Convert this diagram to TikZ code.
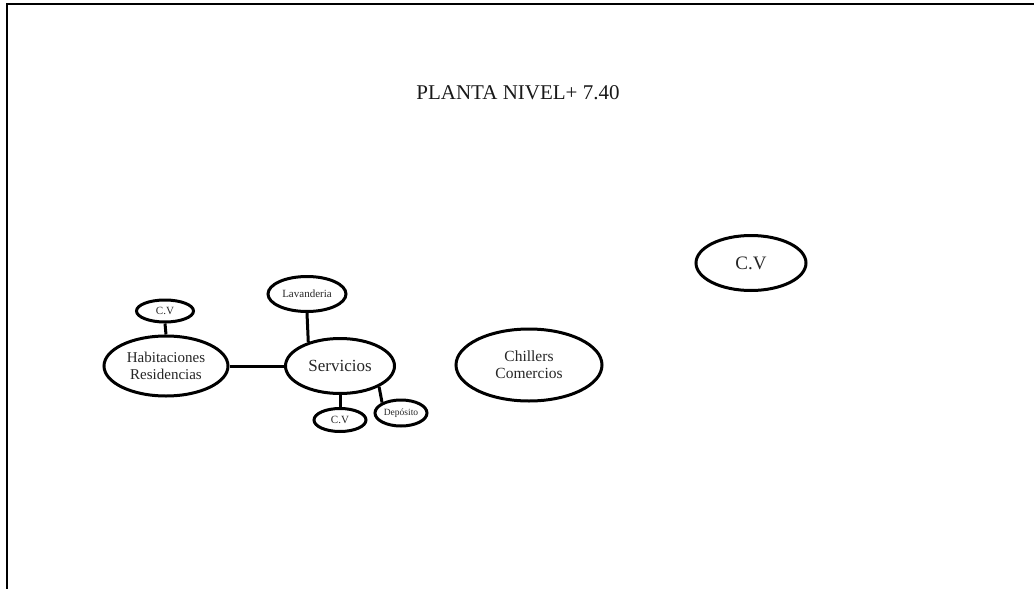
\documentclass[tikz,border=0pt]{standalone}
\usepackage{fontspec}
\setmainfont{Liberation Serif}
\usetikzlibrary{shapes.geometric}
\tikzset{
  room/.style={ellipse, draw=black, line width=3pt, inner sep=0pt, align=center, text=black!85},
  link/.style={line width=3pt},
}
\begin{document}
\begin{tikzpicture}[x=1pt,y=-1pt]
\useasboundingbox (0,0) rectangle (1034,589);
\draw[line width=2.2pt] (7,589) -- (7,4) -- (1034,4);
\node[font=\fontsize{21}{25}\selectfont, text=black!90] (title) at (518,93) {PLANTA NIVEL+ 7.40};
\node[room, minimum width=110pt, minimum height=55pt, font=\fontsize{19}{22}\selectfont] (cvr) at (751,263) {C.V};
\node[room, minimum width=146pt, minimum height=72pt, font=\fontsize{15.5}{17}\selectfont] (chil) at (529,365) {Chillers\\Comercios};
\node[room, minimum width=124pt, minimum height=60pt, font=\fontsize{15}{17}\selectfont] (hab) at (166,366) {Habitaciones\\Residencias};
\node[room, minimum width=57pt, minimum height=22pt, font=\fontsize{11}{13}\selectfont] (cvl) at (165,311) {C.V};
\node[room, minimum width=109pt, minimum height=55pt, font=\fontsize{17}{20}\selectfont] (serv) at (340,366) {Servicios};
\node[room, minimum width=78pt, minimum height=35pt, font=\fontsize{11}{13}\selectfont] (lav) at (307,294) {Lavanderia};
\node[room, minimum width=52pt, minimum height=23pt, font=\fontsize{11}{13}\selectfont] (cvb) at (340,420) {C.V};
\node[room, minimum width=52pt, minimum height=26pt, font=\fontsize{9.5}{11}\selectfont] (dep) at (401,413) {Depósito};
\draw[link] (cvl.south) -- (hab.north);
\draw[link] (hab.east) -- (serv.west);
\draw[link] (lav.south) -- (serv.143);
\draw[link] (serv.south) -- (cvb.north);
\draw[link] (serv.-28) -- (dep.151);
\end{tikzpicture}
\end{document}
